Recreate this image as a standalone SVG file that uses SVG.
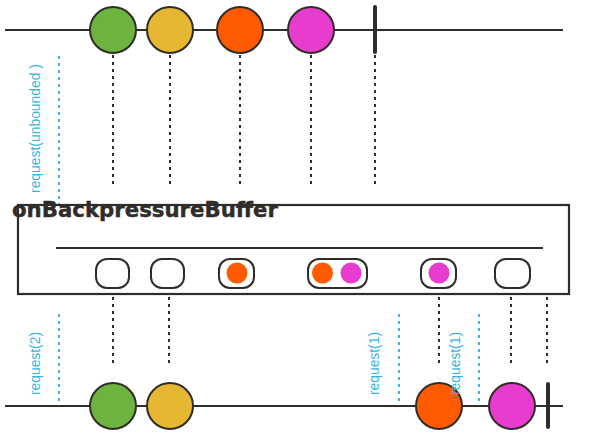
<svg xmlns="http://www.w3.org/2000/svg" width="595" height="435" viewBox="0 0 595 435">
<style>
.tl{stroke:#302c29;stroke-width:2.2;fill:none}
.ev{stroke:#302c29;stroke-width:2}
.dot{stroke:#302c29;stroke-width:2;stroke-dasharray:3 4;fill:none}
.req{stroke:#3cb4e0;stroke-width:2;stroke-dasharray:3 4;fill:none}
.rt{font-family:"Liberation Sans",Arial,sans-serif;font-size:14px;fill:#3cb4e0}
.cap{fill:#fff;stroke:#302c29;stroke-width:2}
.end{stroke:#302c29;stroke-width:4;stroke-linecap:round}
.g{fill:#6db33f}.y{fill:#e6b832}.o{fill:#ff5a00}.m{fill:#e83ccf}
</style>
<rect width="595" height="435" fill="#fff"/>
<g id="connectors">
<line class="dot" x1="113" y1="55" x2="113" y2="184"/>
<line class="dot" x1="170" y1="55" x2="170" y2="184"/>
<line class="dot" x1="240" y1="55" x2="240" y2="184"/>
<line class="dot" x1="311" y1="55" x2="311" y2="184"/>
<line class="dot" x1="375" y1="55" x2="375" y2="184"/>
<line class="req" x1="59" y1="56" x2="59" y2="206"/>
<line class="dot" x1="113" y1="297" x2="113" y2="364"/>
<line class="dot" x1="169" y1="297" x2="169" y2="364"/>
<line class="dot" x1="439" y1="297" x2="439" y2="364"/>
<line class="dot" x1="511" y1="297" x2="511" y2="364"/>
<line class="dot" x1="547" y1="297" x2="547" y2="364"/>
<line class="req" x1="59" y1="314" x2="59" y2="406"/>
<line class="req" x1="399" y1="314" x2="399" y2="406"/>
<line class="req" x1="479" y1="314" x2="479" y2="406"/>
</g>
<g id="source">
<line class="tl" x1="5" y1="30" x2="563" y2="30"/>
<circle class="ev g" cx="113" cy="30" r="23"/>
<circle class="ev y" cx="170" cy="30" r="23"/>
<circle class="ev o" cx="240" cy="30" r="23"/>
<circle class="ev m" cx="311" cy="30" r="23"/>
<line class="end" x1="375" y1="7" x2="375" y2="52"/>
</g>
<g id="request-unbounded">
<text class="rt" transform="translate(40,193) rotate(-90)" textLength="129" lengthAdjust="spacingAndGlyphs">request(unbounded )</text>
</g>
<g id="operator">
<rect x="18" y="205" width="551" height="89" fill="none" stroke="#302c29" stroke-width="2.2"/>
<line class="tl" x1="56" y1="248" x2="543" y2="248"/>
<rect class="cap" x="96" y="259" width="33" height="29" rx="11"/>
<rect class="cap" x="151" y="259" width="33" height="29" rx="11"/>
<rect class="cap" x="219" y="259" width="35" height="29" rx="11"/>
<circle class="o" cx="237" cy="273" r="10.5"/>
<rect class="cap" x="308" y="259" width="59" height="29" rx="11"/>
<circle class="o" cx="322.5" cy="273" r="10.5"/>
<circle class="m" cx="351" cy="273" r="10.5"/>
<rect class="cap" x="421" y="259" width="35" height="29" rx="11"/>
<circle class="m" cx="439" cy="273" r="10.5"/>
<rect class="cap" x="495" y="259" width="35" height="29" rx="11"/>
<text x="12" y="217" font-family="'DejaVu Sans',sans-serif" font-weight="bold" font-size="21.5" fill="#302c29" stroke="#302c29" stroke-width="0.4" textLength="266" lengthAdjust="spacingAndGlyphs">onBackpressureBuffer</text>
</g>
<g id="result">
<line class="tl" x1="5" y1="406" x2="563" y2="406"/>
<circle class="ev g" cx="113" cy="406" r="23"/>
<circle class="ev y" cx="170" cy="406" r="23"/>
<circle class="ev o" cx="439" cy="406" r="23"/>
<circle class="ev m" cx="512" cy="406" r="23"/>
<line class="end" x1="548" y1="384" x2="548" y2="427"/>
</g>
<g id="request-2"><text class="rt" transform="translate(40,395) rotate(-90)" textLength="63" lengthAdjust="spacingAndGlyphs">request(2)</text></g>
<g id="request-1a"><text class="rt" transform="translate(379,395) rotate(-90)" textLength="63" lengthAdjust="spacingAndGlyphs">request(1)</text></g>
<g id="request-1b"><text class="rt" transform="translate(460,395) rotate(-90)" textLength="63" lengthAdjust="spacingAndGlyphs">request(1)</text></g>
</svg>
